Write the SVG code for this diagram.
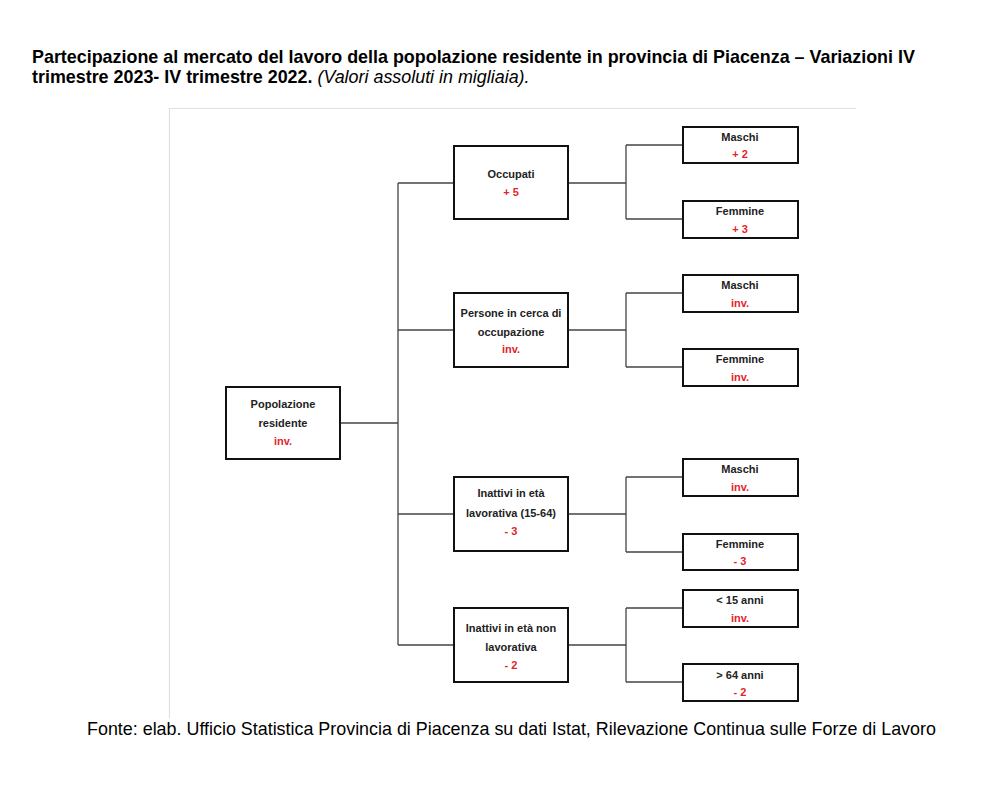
<svg xmlns="http://www.w3.org/2000/svg" width="1000" height="790" viewBox="0 0 1000 790">
<style>
.box{fill:#fff;stroke:#111;stroke-width:2}
.con{fill:none;stroke:#444;stroke-width:1.3}
.lbl{font-family:"Liberation Sans",Arial,sans-serif;font-weight:bold;font-size:11px;fill:#222;text-anchor:middle}
.val{font-family:"Liberation Sans",Arial,sans-serif;font-weight:bold;font-size:11px;fill:#e3242b;text-anchor:middle}
.title{font-family:"Liberation Sans",Arial,sans-serif;font-weight:bold;font-size:17.9px;fill:#000}
.foot{font-family:"Liberation Sans",Arial,sans-serif;font-size:17.9px;fill:#000}
</style>
<rect width="1000" height="790" fill="#fff"/>
<text class="title" x="32" y="63">Partecipazione al mercato del lavoro della popolazione residente in provincia di Piacenza – Variazioni IV</text>
<text class="title" x="32" y="83">trimestre 2023- IV trimestre 2022. <tspan font-weight="normal" font-style="italic">(Valori assoluti in migliaia).</tspan></text>
<path d="M169.5 718 V108.5 H856" fill="none" stroke="#e0e0e0" stroke-width="1.2"/>
<g id="connectors">
<path class="con" d="M340 423 H398 M398 183 V645 M398 183 H454 M398 330 H454 M398 514 H454 M398 645 H454"/>
<path class="con" d="M568 183 H626 M626 145 V219 M626 145 H683 M626 219 H683"/>
<path class="con" d="M568 330 H626 M626 293 V367 M626 293 H683 M626 367 H683"/>
<path class="con" d="M568 514 H626 M626 477 V552 M626 477 H683 M626 552 H683"/>
<path class="con" d="M568 645 H626 M626 608 V682 M626 608 H683 M626 682 H683"/>
</g>
<g id="popolazione"><rect class="box" x="226" y="387" width="114" height="72"/><text class="lbl" x="283" y="408">Popolazione</text><text class="lbl" x="283" y="427">residente</text><text class="val" x="283" y="445">inv.</text></g>
<g id="occupati"><rect class="box" x="454" y="146" width="114" height="73"/><text class="lbl" x="511" y="178">Occupati</text><text class="val" x="511" y="196">+ 5</text></g>
<g id="cerca"><rect class="box" x="454" y="293" width="114" height="74"/><text class="lbl" x="511" y="317">Persone in cerca di</text><text class="lbl" x="511" y="336">occupazione</text><text class="val" x="511" y="353">inv.</text></g>
<g id="inattivi-lav"><rect class="box" x="454" y="477" width="114" height="74"/><text class="lbl" x="511" y="497">Inattivi in età</text><text class="lbl" x="511" y="517">lavorativa (15-64)</text><text class="val" x="511" y="535">- 3</text></g>
<g id="inattivi-nonlav"><rect class="box" x="454" y="608" width="114" height="74"/><text class="lbl" x="511" y="632">Inattivi in età non</text><text class="lbl" x="511" y="651">lavorativa</text><text class="val" x="511" y="669">- 2</text></g>
<g id="occ-maschi"><rect class="box" x="683" y="127" width="115" height="36"/><text class="lbl" x="740" y="141">Maschi</text><text class="val" x="740" y="158">+ 2</text></g>
<g id="occ-femmine"><rect class="box" x="683" y="201" width="115" height="37"/><text class="lbl" x="740" y="215">Femmine</text><text class="val" x="740" y="233">+ 3</text></g>
<g id="cer-maschi"><rect class="box" x="683" y="275" width="115" height="37"/><text class="lbl" x="740" y="289">Maschi</text><text class="val" x="740" y="307">inv.</text></g>
<g id="cer-femmine"><rect class="box" x="683" y="349" width="115" height="37"/><text class="lbl" x="740" y="363">Femmine</text><text class="val" x="740" y="381">inv.</text></g>
<g id="ina-maschi"><rect class="box" x="683" y="459" width="115" height="37"/><text class="lbl" x="740" y="473">Maschi</text><text class="val" x="740" y="491">inv.</text></g>
<g id="ina-femmine"><rect class="box" x="683" y="534" width="115" height="36"/><text class="lbl" x="740" y="548">Femmine</text><text class="val" x="740" y="565">- 3</text></g>
<g id="meno15"><rect class="box" x="683" y="590" width="115" height="37"/><text class="lbl" x="740" y="604">&lt; 15 anni</text><text class="val" x="740" y="622">inv.</text></g>
<g id="piu64"><rect class="box" x="683" y="664" width="115" height="37"/><text class="lbl" x="740" y="679">&gt; 64 anni</text><text class="val" x="740" y="696">- 2</text></g>
<text class="foot" x="87" y="735">Fonte: elab. Ufficio Statistica Provincia di Piacenza su dati Istat, Rilevazione Continua sulle Forze di Lavoro</text>
</svg>
